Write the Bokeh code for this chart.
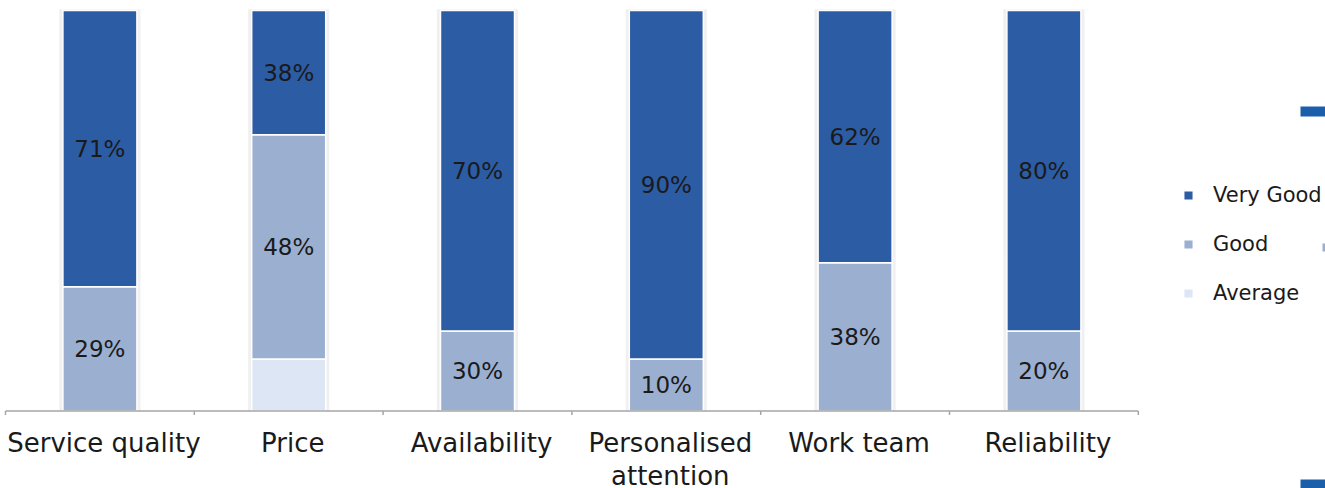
from bokeh.plotting import figure
from bokeh.models import (ColumnDataSource, Range1d, Legend, LegendItem, BoxAnnotation)
from bokeh.embed import file_html
from bokeh.resources import INLINE
from bokeh.core.properties import value

# ---- data ----
categories = ["Service quality", "Price", "Availability", "Personalised\nattention", "Work team", "Reliability"]
very_good = [69, 31, 80, 87, 63, 80]      # bar heights (% of column)
good = [31, 56, 20, 13, 37, 20]
average = [0, 13, 0, 0, 0, 0]
very_good_labels = ["71%", "38%", "70%", "90%", "62%", "80%"]
good_labels = ["29%", "48%", "30%", "10%", "38%", "20%"]

# ---- styles ----
C_VG = "#2C5CA4"
C_GOOD = "#9BAFD0"
C_AVG = "#DCE6F4"
C_AXIS = "#A6A6A6"
FONT = "DejaVu Sans"
TXT = "#1A1A1A"
PX_PER_UNIT = 4.005          # vertical pixels per percent
H = 488

n = len(categories)
x = [i + 0.5 for i in range(n)]
src = ColumnDataSource(dict(
    x=x, very_good=very_good, good=good, average=average,
    good_y=[a + g / 2 for a, g in zip(average, good)],
    vg_y=[a + g + v / 2 for a, g, v in zip(average, good, very_good)],
    good_lab=good_labels, vg_lab=very_good_labels,
    cat=categories,
))
bounds = list(range(n + 1))

p = figure(width=1325, height=H, output_backend="svg", toolbar_location=None,
           x_range=Range1d(-0.0265, 6.9915), y_range=Range1d(-19.35, 102.5),
           x_axis_location=None, y_axis_location=None,
           min_border_left=0, min_border_right=0, min_border_top=0, min_border_bottom=0,
           outline_line_color=None)
p.grid.visible = False

# faint shadow behind the columns
p.vbar(x="x", top=100.3, bottom=-0.1, width=0.43, source=src,
       fill_color="black", fill_alpha=0.06, line_color=None)

rs = p.vbar_stack(["average", "good", "very_good"], x="x", width=0.392, source=src,
                  color=[C_AVG, C_GOOD, C_VG], line_color="white", line_width=1.5)

for ycol, tcol in (("good_y", "good_lab"), ("vg_y", "vg_lab")):
    p.text(x="x", y=ycol, text=tcol, source=src, text_align="center",
           text_baseline="middle", text_font=value(FONT), text_font_size=value("23px"),
           text_color=TXT)

# category axis: baseline, boundary ticks and labels
p.segment(x0=bounds[0], y0=0, x1=bounds[-1], y1=0, line_color=C_AXIS, line_width=1.5)
p.segment(x0=bounds, y0=[0] * len(bounds), x1=bounds, y1=[-4 / PX_PER_UNIT] * len(bounds),
          line_color=C_AXIS, line_width=1.5)
p.text(x="x", y=-17 / PX_PER_UNIT, text="cat", source=src, x_offset=4,
       text_align="center", text_baseline="top", text_font=value(FONT),
       text_font_size=value("26px"), text_color=TXT, text_line_height=1.09)

legend = Legend(items=[LegendItem(label="Very Good", renderers=[rs[2]]),
                       LegendItem(label="Good", renderers=[rs[1]]),
                       LegendItem(label="Average", renderers=[rs[0]])],
                location=(1182, 183), glyph_width=12, glyph_height=12,
                label_height=25, spacing=24, padding=0, margin=0,
                border_line_color=None, background_fill_alpha=0,
                label_text_font=FONT, label_text_font_size="21px",
                label_text_color=TXT, label_standoff=19)
p.add_layout(legend)

# clipped fragments of a second legend at the right edge (screen units from bottom)
for (l, r, t, b, c) in ((1300, 1325, 106, 116, "#1B5EA9"),
                        (1300, 1325, 479, 488, "#1B5EA9"),
                        (1322, 1325, 243, 251, "#9BAFD0")):
    p.add_layout(BoxAnnotation(left=l, right=r, top=H - t, bottom=H - b,
                               left_units="screen", right_units="screen",
                               top_units="screen", bottom_units="screen",
                               fill_color=c, fill_alpha=1, line_color=None))

open("out.html", "w").write(file_html(p, INLINE))
